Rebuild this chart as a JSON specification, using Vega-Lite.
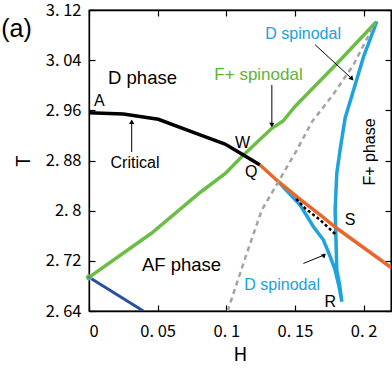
{
  "$schema": "https://vega.github.io/schema/vega-lite/v6.json",
  "width": 302,
  "height": 301,
  "autosize": {"type": "none"},
  "padding": {"left": 89, "top": 10, "right": 1, "bottom": 57},
  "title": {"text": "(a)", "anchor": "start", "frame": "bounds", "font": "Liberation Sans", "fontSize": 25, "fontWeight": "normal", "color": "black", "dx": -13, "dy": 44},
  "config": {
    "view": {"stroke": "black", "strokeWidth": 1.3},
    "axis": {
      "domainColor": "black", "domainWidth": 1.3, "tickColor": "black", "tickWidth": 1.2, "tickSize": -6,
      "labelFont": "Noto Sans CJK JP", "labelFontSize": 16.5, "labelColor": "black",
      "titleFont": "Noto Sans CJK JP", "titleFontSize": 19, "titleFontWeight": "normal", "titleColor": "black",
      "grid": false
    }
  },
  "datasets": {
    "curves": [
      {"series": "critical", "order": 1, "H": 0.0, "T": 2.956},
      {"series": "critical", "order": 2, "H": 0.025, "T": 2.954},
      {"series": "critical", "order": 3, "H": 0.0505, "T": 2.9457},
      {"series": "critical", "order": 4, "H": 0.0809, "T": 2.9207},
      {"series": "critical", "order": 5, "H": 0.0991, "T": 2.9063},
      {"series": "critical", "order": 6, "H": 0.1125, "T": 2.8888},
      {"series": "critical", "order": 7, "H": 0.1246, "T": 2.8728},
      {"series": "first", "order": 1, "H": 0.1246, "T": 2.8728},
      {"series": "first", "order": 2, "H": 0.138, "T": 2.8462},
      {"series": "first", "order": 3, "H": 0.1538, "T": 2.8181},
      {"series": "first", "order": 4, "H": 0.1684, "T": 2.7931},
      {"series": "first", "order": 5, "H": 0.1805, "T": 2.7719},
      {"series": "first", "order": 6, "H": 0.2206, "T": 2.7086},
      {"series": "fplus", "order": 1, "H": 0.0, "T": 2.6937},
      {"series": "fplus", "order": 2, "H": 0.0457, "T": 2.7644},
      {"series": "fplus", "order": 3, "H": 0.0809, "T": 2.829},
      {"series": "fplus", "order": 4, "H": 0.0991, "T": 2.859},
      {"series": "fplus", "order": 5, "H": 0.1125, "T": 2.8888},
      {"series": "fplus", "order": 6, "H": 0.1332, "T": 2.9313},
      {"series": "fplus", "order": 7, "H": 0.1414, "T": 2.943},
      {"series": "fplus", "order": 8, "H": 0.1501, "T": 2.9661},
      {"series": "fplus", "order": 9, "H": 0.1817, "T": 3.0371},
      {"series": "fplus", "order": 10, "H": 0.2088, "T": 3.1001},
      {"series": "af", "order": 1, "H": 0.0, "T": 2.6937},
      {"series": "af", "order": 2, "H": 0.0396, "T": 2.64},
      {"series": "dspin", "order": 1, "H": 0.138, "T": 2.8462},
      {"series": "dspin", "order": 2, "H": 0.1538, "T": 2.809},
      {"series": "dspin", "order": 3, "H": 0.1635, "T": 2.7744},
      {"series": "dspin", "order": 4, "H": 0.1708, "T": 2.7532},
      {"series": "dspin", "order": 5, "H": 0.1757, "T": 2.7266},
      {"series": "dspin", "order": 6, "H": 0.1793, "T": 2.7054},
      {"series": "dspin", "order": 7, "H": 0.1819, "T": 2.6815},
      {"series": "dspin", "order": 8, "H": 0.1842, "T": 2.6548},
      {"series": "dspin", "order": 9, "H": 0.1826, "T": 2.6815},
      {"series": "dspin", "order": 10, "H": 0.1805, "T": 2.7054},
      {"series": "dspin", "order": 11, "H": 0.1798, "T": 2.7639},
      {"series": "dspin", "order": 12, "H": 0.1793, "T": 2.8011},
      {"series": "dspin", "order": 13, "H": 0.1805, "T": 2.8596},
      {"series": "dspin", "order": 14, "H": 0.1829, "T": 2.8967},
      {"series": "dspin", "order": 15, "H": 0.1866, "T": 2.9478},
      {"series": "dspin", "order": 16, "H": 0.1939, "T": 3.0009},
      {"series": "dspin", "order": 17, "H": 0.2, "T": 3.0455},
      {"series": "dspin", "order": 18, "H": 0.2097, "T": 3.102},
      {"series": "grey", "order": 1, "H": 0.101, "T": 2.64},
      {"series": "grey", "order": 2, "H": 0.1137, "T": 2.724},
      {"series": "grey", "order": 3, "H": 0.1259, "T": 2.8011},
      {"series": "grey", "order": 4, "H": 0.138, "T": 2.8462},
      {"series": "grey", "order": 5, "H": 0.1514, "T": 2.8967},
      {"series": "grey", "order": 6, "H": 0.1625, "T": 2.9420},
      {"series": "grey", "order": 7, "H": 0.1778, "T": 2.9850},
      {"series": "grey", "order": 8, "H": 0.1926, "T": 3.0323},
      {"series": "grey", "order": 9, "H": 0.2063, "T": 3.091},
      {"series": "bdash", "order": 1, "H": 0.1509, "T": 2.8186},
      {"series": "bdash", "order": 2, "H": 0.1574, "T": 2.8038},
      {"series": "bdash", "order": 3, "H": 0.1684, "T": 2.7851},
      {"series": "bdash", "order": 4, "H": 0.1793, "T": 2.7628}
    ],
    "arrows": [
      {"name": "critical", "H": 0.0311, "T": 2.8936, "H2": 0.0311, "T2": 2.9419},
      {"name": "fplus", "H": 0.1332, "T": 3.0004, "H2": 0.1332, "T2": 2.9366},
      {"name": "dtop", "H": 0.1647, "T": 3.0647, "H2": 0.1915, "T2": 3.0104},
      {"name": "dbottom", "H": 0.1562, "T": 2.7158, "H2": 0.1713, "T2": 2.7293}
    ]
  },
  "layer": [
    {
      "data": {"name": "curves"},
      "transform": [{"filter": "datum.series === 'dspin'"}],
      "mark": {"type": "line", "color": "#1ea3dd", "strokeWidth": 3.5, "clip": true},
      "encoding": {
        "x": {"field": "H", "type": "quantitative", "scale": {"domain": [0, 0.22], "nice": false}, "axis": {"title": "H", "values": [0, 0.05, 0.1, 0.15, 0.2], "format": ".2~f", "labelExpr": "replace(datum.label, '.', '. ')", "labelPadding": 18, "titlePadding": 6}},
        "y": {"field": "T", "type": "quantitative", "scale": {"domain": [2.64, 3.12], "nice": false, "zero": false}, "axis": {"title": "T", "values": [2.64, 2.72, 2.8, 2.88, 2.96, 3.04, 3.12], "format": ".2~f", "labelExpr": "replace(datum.label, '.', '. ')", "labelPadding": 14, "titlePadding": 12}},
        "order": {"field": "order", "type": "quantitative"}
      }
    },
    {
      "data": {"name": "curves"},
      "transform": [{"filter": "datum.series === 'fplus'"}],
      "mark": {"type": "line", "color": "#6cbd45", "strokeWidth": 3.5, "clip": true},
      "encoding": {
        "x": {"field": "H", "type": "quantitative", "scale": {"domain": [0, 0.22], "nice": false}, "axis": {"orient": "top", "title": null, "labels": false, "values": [0, 0.05, 0.1, 0.15, 0.2]}},
        "y": {"field": "T", "type": "quantitative", "scale": {"domain": [2.64, 3.12], "nice": false, "zero": false}, "axis": {"orient": "right", "title": null, "labels": false, "values": [2.64, 2.72, 2.8, 2.88, 2.96, 3.04, 3.12]}},
        "order": {"field": "order", "type": "quantitative"}
      }
    },
    {
      "data": {"name": "curves"},
      "transform": [{"filter": "datum.series === 'critical'"}],
      "mark": {"type": "line", "color": "black", "strokeWidth": 3.5, "clip": true},
      "encoding": {
        "x": {"field": "H", "type": "quantitative", "scale": {"domain": [0, 0.22], "nice": false}, "axis": null},
        "y": {"field": "T", "type": "quantitative", "scale": {"domain": [2.64, 3.12], "nice": false, "zero": false}, "axis": null},
        "order": {"field": "order", "type": "quantitative"}
      }
    },
    {
      "data": {"name": "curves"},
      "transform": [{"filter": "datum.series === 'af'"}],
      "mark": {"type": "line", "color": "#2b4e9e", "strokeWidth": 3, "clip": true},
      "encoding": {
        "x": {"field": "H", "type": "quantitative", "scale": {"domain": [0, 0.22], "nice": false}, "axis": null},
        "y": {"field": "T", "type": "quantitative", "scale": {"domain": [2.64, 3.12], "nice": false, "zero": false}, "axis": null},
        "order": {"field": "order", "type": "quantitative"}
      }
    },
    {
      "data": {"name": "curves"},
      "transform": [{"filter": "datum.series === 'first'"}],
      "mark": {"type": "line", "color": "#e8682c", "strokeWidth": 3.5, "clip": true},
      "encoding": {
        "x": {"field": "H", "type": "quantitative", "scale": {"domain": [0, 0.22], "nice": false}, "axis": null},
        "y": {"field": "T", "type": "quantitative", "scale": {"domain": [2.64, 3.12], "nice": false, "zero": false}, "axis": null},
        "order": {"field": "order", "type": "quantitative"}
      }
    },
    {
      "data": {"name": "curves"},
      "transform": [{"filter": "datum.series === 'bdash'"}],
      "mark": {"type": "line", "color": "black", "strokeWidth": 2.5, "strokeDash": [3, 2.5], "clip": true},
      "encoding": {
        "x": {"field": "H", "type": "quantitative", "scale": {"domain": [0, 0.22], "nice": false}, "axis": null},
        "y": {"field": "T", "type": "quantitative", "scale": {"domain": [2.64, 3.12], "nice": false, "zero": false}, "axis": null},
        "order": {"field": "order", "type": "quantitative"}
      }
    },
    {
      "data": {"name": "curves"},
      "transform": [{"filter": "datum.series === 'grey'"}],
      "mark": {"type": "line", "color": "#a3a3a3", "strokeWidth": 2.5, "strokeDash": [5, 4], "clip": true},
      "encoding": {
        "x": {"field": "H", "type": "quantitative", "scale": {"domain": [0, 0.22], "nice": false}, "axis": null},
        "y": {"field": "T", "type": "quantitative", "scale": {"domain": [2.64, 3.12], "nice": false, "zero": false}, "axis": null},
        "order": {"field": "order", "type": "quantitative"}
      }
    },
    {
      "data": {"values": [{"H": 0, "T": 2.6937}]},
      "mark": {"type": "point", "shape": "circle", "size": 22, "stroke": "#6cbd45", "strokeWidth": 1.5, "fill": "#4f86b8", "filled": true, "opacity": 1, "clip": false},
      "encoding": {
        "x": {"field": "H", "type": "quantitative", "scale": {"domain": [0, 0.22], "nice": false}, "axis": null},
        "y": {"field": "T", "type": "quantitative", "scale": {"domain": [2.64, 3.12], "nice": false, "zero": false}, "axis": null}
      }
    },
    {
      "data": {"name": "arrows"},
      "mark": {"type": "rule", "color": "black", "strokeWidth": 1},
      "encoding": {
        "x": {"field": "H", "type": "quantitative", "scale": {"domain": [0, 0.22], "nice": false}, "axis": null},
        "y": {"field": "T", "type": "quantitative", "scale": {"domain": [2.64, 3.12], "nice": false, "zero": false}, "axis": null},
        "x2": {"field": "H2"},
        "y2": {"field": "T2"}
      }
    },
    {
      "data": {"name": "arrows"},
      "transform": [{"filter": "datum.name === 'critical'"}],
      "mark": {"type": "point", "shape": "triangle-up", "size": 28, "filled": true, "color": "black", "opacity": 1, "angle": 0},
      "encoding": {
        "x": {"field": "H2", "type": "quantitative", "scale": {"domain": [0, 0.22], "nice": false}, "axis": null},
        "y": {"field": "T2", "type": "quantitative", "scale": {"domain": [2.64, 3.12], "nice": false, "zero": false}, "axis": null}
      }
    },
    {
      "data": {"name": "arrows"},
      "transform": [{"filter": "datum.name === 'fplus'"}],
      "mark": {"type": "point", "shape": "triangle-up", "size": 28, "filled": true, "color": "black", "opacity": 1, "angle": 180},
      "encoding": {
        "x": {"field": "H2", "type": "quantitative", "scale": {"domain": [0, 0.22], "nice": false}, "axis": null},
        "y": {"field": "T2", "type": "quantitative", "scale": {"domain": [2.64, 3.12], "nice": false, "zero": false}, "axis": null}
      }
    },
    {
      "data": {"name": "arrows"},
      "transform": [{"filter": "datum.name === 'dtop'"}],
      "mark": {"type": "point", "shape": "triangle-up", "size": 28, "filled": true, "color": "black", "opacity": 1, "angle": 137},
      "encoding": {
        "x": {"field": "H2", "type": "quantitative", "scale": {"domain": [0, 0.22], "nice": false}, "axis": null},
        "y": {"field": "T2", "type": "quantitative", "scale": {"domain": [2.64, 3.12], "nice": false, "zero": false}, "axis": null}
      }
    },
    {
      "data": {"name": "arrows"},
      "transform": [{"filter": "datum.name === 'dbottom'"}],
      "mark": {"type": "point", "shape": "triangle-up", "size": 28, "filled": true, "color": "black", "opacity": 1, "angle": 45},
      "encoding": {
        "x": {"field": "H2", "type": "quantitative", "scale": {"domain": [0, 0.22], "nice": false}, "axis": null},
        "y": {"field": "T2", "type": "quantitative", "scale": {"domain": [2.64, 3.12], "nice": false, "zero": false}, "axis": null}
      }
    },
    {
      "data": {"values": [
        {"label": "D phase", "H": 0.039, "T": 3.0116},
        {"label": "AF phase", "H": 0.0674, "T": 2.7134}
      ]},
      "mark": {"type": "text", "font": "Liberation Sans", "fontSize": 18.5, "color": "black", "align": "center", "baseline": "middle"},
      "encoding": {
        "x": {"field": "H", "type": "quantitative", "scale": {"domain": [0, 0.22], "nice": false}, "axis": null},
        "y": {"field": "T", "type": "quantitative", "scale": {"domain": [2.64, 3.12], "nice": false, "zero": false}, "axis": null},
        "text": {"field": "label"}
      }
    },
    {
      "data": {"values": [
        {"label": "A", "H": 0.0075, "T": 2.9744},
        {"label": "Critical", "H": 0.0335, "T": 2.8765},
        {"label": "W", "H": 0.1119, "T": 2.9087},
        {"label": "Q", "H": 0.1181, "T": 2.8617},
        {"label": "S", "H": 0.1902, "T": 2.7851},
        {"label": "R", "H": 0.1757, "T": 2.6536}
      ]},
      "mark": {"type": "text", "font": "Liberation Sans", "fontSize": 16, "color": "black", "align": "center", "baseline": "middle"},
      "encoding": {
        "x": {"field": "H", "type": "quantitative", "scale": {"domain": [0, 0.22], "nice": false}, "axis": null},
        "y": {"field": "T", "type": "quantitative", "scale": {"domain": [2.64, 3.12], "nice": false, "zero": false}, "axis": null},
        "text": {"field": "label"}
      }
    },
    {
      "data": {"values": [{"label": "F+ phase", "H": 0.2044, "T": 2.8936}]},
      "mark": {"type": "text", "font": "Liberation Sans", "fontSize": 16, "color": "black", "align": "center", "baseline": "middle", "angle": 270},
      "encoding": {
        "x": {"field": "H", "type": "quantitative", "scale": {"domain": [0, 0.22], "nice": false}, "axis": null},
        "y": {"field": "T", "type": "quantitative", "scale": {"domain": [2.64, 3.12], "nice": false, "zero": false}, "axis": null},
        "text": {"field": "label"}
      }
    },
    {
      "data": {"values": [{"label": "F+ spinodal", "H": 0.1235, "T": 3.0164}]},
      "mark": {"type": "text", "font": "Liberation Sans", "fontSize": 17, "color": "#5db535", "align": "center", "baseline": "middle"},
      "encoding": {
        "x": {"field": "H", "type": "quantitative", "scale": {"domain": [0, 0.22], "nice": false}, "axis": null},
        "y": {"field": "T", "type": "quantitative", "scale": {"domain": [2.64, 3.12], "nice": false, "zero": false}, "axis": null},
        "text": {"field": "label"}
      }
    },
    {
      "data": {"values": [
        {"label": "D spinodal", "H": 0.156, "T": 3.0825},
        {"label": "D spinodal", "H": 0.1407, "T": 2.6807}
      ]},
      "mark": {"type": "text", "font": "Liberation Sans", "fontSize": 16, "color": "#1aa0dc", "align": "center", "baseline": "middle"},
      "encoding": {
        "x": {"field": "H", "type": "quantitative", "scale": {"domain": [0, 0.22], "nice": false}, "axis": null},
        "y": {"field": "T", "type": "quantitative", "scale": {"domain": [2.64, 3.12], "nice": false, "zero": false}, "axis": null},
        "text": {"field": "label"}
      }
    }
  ],
  "resolve": {"axis": {"x": "independent", "y": "independent"}}
}
